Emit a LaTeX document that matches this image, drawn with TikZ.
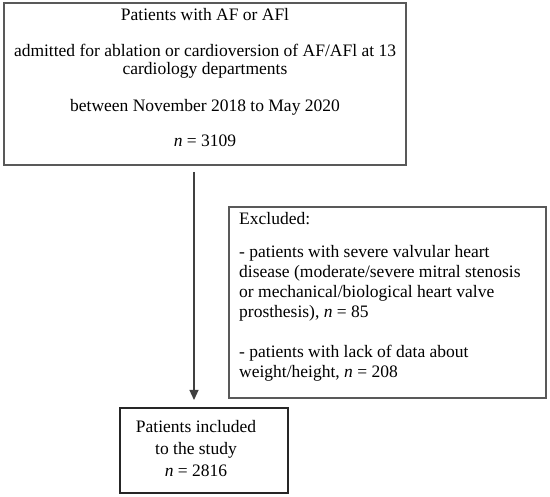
\documentclass[tikz,border=0pt]{standalone}
\usepackage{fontspec}
\setmainfont{Liberation Serif}
\usetikzlibrary{arrows.meta}
\begin{document}
\begin{tikzpicture}[x=1pt,y=-1pt,
  box/.style={draw=black!65, line width=1.6pt, inner sep=0pt},
  boxdark/.style={draw=black!85, line width=1.6pt, inner sep=0pt},
  txt/.style={font=\fontsize{17.5}{20}\selectfont, inner sep=0pt},
  arr/.style={draw=black!75, line width=1.2pt, -{Triangle[width=9pt,length=10pt]}}]
\useasboundingbox (0,0) rectangle (550,497);
% top box
\node[box, minimum width=402pt, minimum height=162pt] (top) at (205,84) {};
\node[txt, anchor=base] (t1) at (205,21) {Patients with AF or AFl};
\node[txt, anchor=base] (t2) at (205,57) {admitted for ablation or cardioversion of AF/AFl at 13};
\node[txt, anchor=base] (t3) at (205,75) {cardiology departments};
\node[txt, anchor=base] (t4) at (205,112) {between November 2018 to May 2020};
\node[txt, anchor=base] (t5) at (205,147) {\textit{n} = 3109};
% excluded box
\node[box, minimum width=317pt, minimum height=191pt] (exc) at (387.5,302.5) {};
\node[txt, anchor=base west] (e1) at (239,225) {Excluded:};
\node[txt, anchor=base west] (e2) at (239,258) {- patients with severe valvular heart};
\node[txt, anchor=base west] (e3) at (239,278) {disease (moderate/severe mitral stenosis};
\node[txt, anchor=base west] (e4) at (239,298) {or mechanical/biological heart valve};
\node[txt, anchor=base west] (e5) at (239,318) {prosthesis), \textit{n} = 85};
\node[txt, anchor=base west] (e6) at (239,358) {- patients with lack of data about};
\node[txt, anchor=base west] (e7) at (239,378) {weight/height, \textit{n} = 208};
% bottom box
\node[boxdark, minimum width=168pt, minimum height=85pt] (bot) at (204,450.5) {};
\node[txt, anchor=base] (b1) at (196,433) {Patients included};
\node[txt, anchor=base] (b2) at (196,455) {to the study};
\node[txt, anchor=base] (b3) at (196,477) {\textit{n} = 2816};
% arrow
\coordinate (as) at (194,172);
\coordinate (ae) at (194,400);
\draw[arr] (as) -- (ae);
\end{tikzpicture}
\end{document}
